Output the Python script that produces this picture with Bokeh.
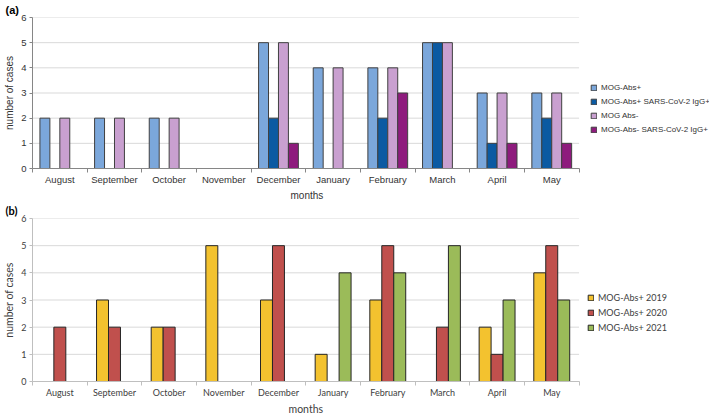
from bokeh.plotting import figure
from bokeh.layouts import column
from bokeh.models import ColumnDataSource, Range1d, FixedTicker, Legend, LegendItem, Title
from bokeh.embed import file_html
from bokeh.resources import INLINE
import numpy as np

months = ["August", "September", "October", "November", "December",
          "January", "February", "March", "April", "May"]
yticks = [0, 1, 2, 3, 4, 5, 6]

# Panel (a)
a_names = ["MOG-Abs+", "MOG-Abs+ SARS-CoV-2 IgG+", "MOG Abs-", "MOG-Abs- SARS-CoV-2 IgG+"]
a_mog_pos = [2, 2, 2, 0, 5, 4, 4, 5, 3, 3]
a_mog_pos_sars = [0, 0, 0, 0, 2, 0, 2, 5, 1, 2]
a_mog_neg = [2, 2, 2, 0, 5, 4, 4, 5, 3, 3]
a_mog_neg_sars = [0, 0, 0, 0, 1, 0, 3, 0, 1, 1]
a_colors = ["#7BA7DB", "#0B5AA2", "#C9A0D0", "#8E1B7D"]

# Panel (b)
b_names = ["MOG-Abs+ 2019", "MOG-Abs+ 2020", "MOG-Abs+ 2021"]
b_2019 = [0, 3, 2, 5, 3, 1, 3, 0, 2, 4]
b_2020 = [2, 2, 2, 0, 5, 0, 5, 2, 1, 5]
b_2021 = [0, 0, 0, 0, 0, 4, 4, 5, 3, 3]
b_colors = ["#F3C22F", "#C0504D", "#9BBB59"]

FIG_W = 709
BORDER_L = 29
PLOT_W = 549  # pixel width of the month area


def make_panel(series, names, colors, bar_w, outline, font, tick_size, label_size,
               legend_size, height, tag, axis_color, text_color, leg_loc, leg_spacing,
               xlabel_offset):
    nm = len(months)
    x_end = nm * (FIG_W - BORDER_L) / PLOT_W
    p = figure(width=FIG_W, height=height, output_backend="svg", toolbar_location=None,
               x_range=Range1d(0, x_end), y_range=Range1d(0, 6),
               min_border_left=BORDER_L, min_border_right=0, min_border_top=17,
               min_border_bottom=0, title=tag)
    p.title.text_font = font
    p.title.text_font_size = "11px"
    p.title.text_font_style = "bold"
    p.title.align = "left"
    p.title.offset = -BORDER_L + 2
    p.title.standoff = 3
    p.title.text_color = "#000000"
    p.outline_line_color = None
    p.xgrid.visible = False
    p.ygrid.visible = False
    # horizontal grid lines spanning only the month area
    p.segment(x0=0, x1=nm, y0=yticks, y1=yticks, line_color="#D9D9D9", line_width=1)

    n = len(series)
    items = []
    for k, (vals, name, col) in enumerate(zip(series, names, colors)):
        vals = np.array(vals, dtype=float)
        idx = np.arange(nm)
        mask = vals > 0
        x = idx[mask] + 0.5 + (k - (n - 1) / 2) * bar_w
        src = ColumnDataSource(dict(x=x, top=vals[mask]))
        r = p.vbar(x="x", top="top", bottom=0, width=bar_w, source=src,
                   fill_color=col, line_color=outline, line_width=1)
        items.append(LegendItem(label=name, renderers=[r]))

    xa = p.xaxis[0]
    xa.bounds = (0, nm)
    xa.ticker = FixedTicker(ticks=[i + 0.5 for i in range(nm)],
                            minor_ticks=list(range(nm + 1)))
    xa.major_label_overrides = {i + 0.5: m for i, m in enumerate(months)}
    xa.major_tick_out = 0
    xa.major_tick_in = 0
    xa.minor_tick_out = 4
    xa.minor_tick_in = 0
    xa.minor_tick_line_color = axis_color
    xa.axis_line_color = axis_color
    xa.major_label_standoff = 1

    # x-axis title centred under the month area
    p.add_layout(Title(text="months", align="left", offset=xlabel_offset, standoff=0,
                       text_font=font, text_font_size=label_size,
                       text_font_style="normal", text_color=text_color), "below")

    ya = p.yaxis[0]
    ya.ticker = FixedTicker(ticks=yticks)
    ya.major_tick_out = 3
    ya.major_tick_in = 0
    ya.major_tick_line_color = axis_color
    ya.minor_tick_line_color = None
    ya.axis_line_color = axis_color
    ya.major_label_standoff = 3
    ya.axis_label = "number of cases"
    ya.axis_label_standoff = 3
    ya.axis_label_text_font_style = "normal"
    ya.axis_label_text_font = font
    ya.axis_label_text_font_size = label_size
    ya.axis_label_text_color = text_color

    for ax in (xa, ya):
        ax.major_label_text_font = font
        ax.major_label_text_font_size = tick_size
        ax.major_label_text_color = text_color

    leg = Legend(items=items, location=leg_loc, padding=0, margin=0,
                 border_line_color=None, background_fill_alpha=0,
                 glyph_width=7, glyph_height=7, label_standoff=4,
                 label_height=8, spacing=leg_spacing,
                 label_text_font=font, label_text_font_size=legend_size,
                 label_text_color=text_color)
    p.add_layout(leg)
    return p


pa = make_panel([a_mog_pos, a_mog_pos_sars, a_mog_neg, a_mog_neg_sars], a_names, a_colors,
                0.182, "#404040", "Liberation Sans", "9.5px", "10px", "8px",
                200, "(a)", "#868686", "#333333", (558, 34), 5, 258)
pb = make_panel([b_2019, b_2020, b_2021], b_names, b_colors,
                0.219, "#262626", "Lato", "9px", "10.5px", "9px",
                214, "(b)", "#BFBFBF", "#404040", (555, 48), 4, 256)

layout = column(pa, pb, spacing=0)
open("out.html", "w").write(file_html(layout, INLINE))
